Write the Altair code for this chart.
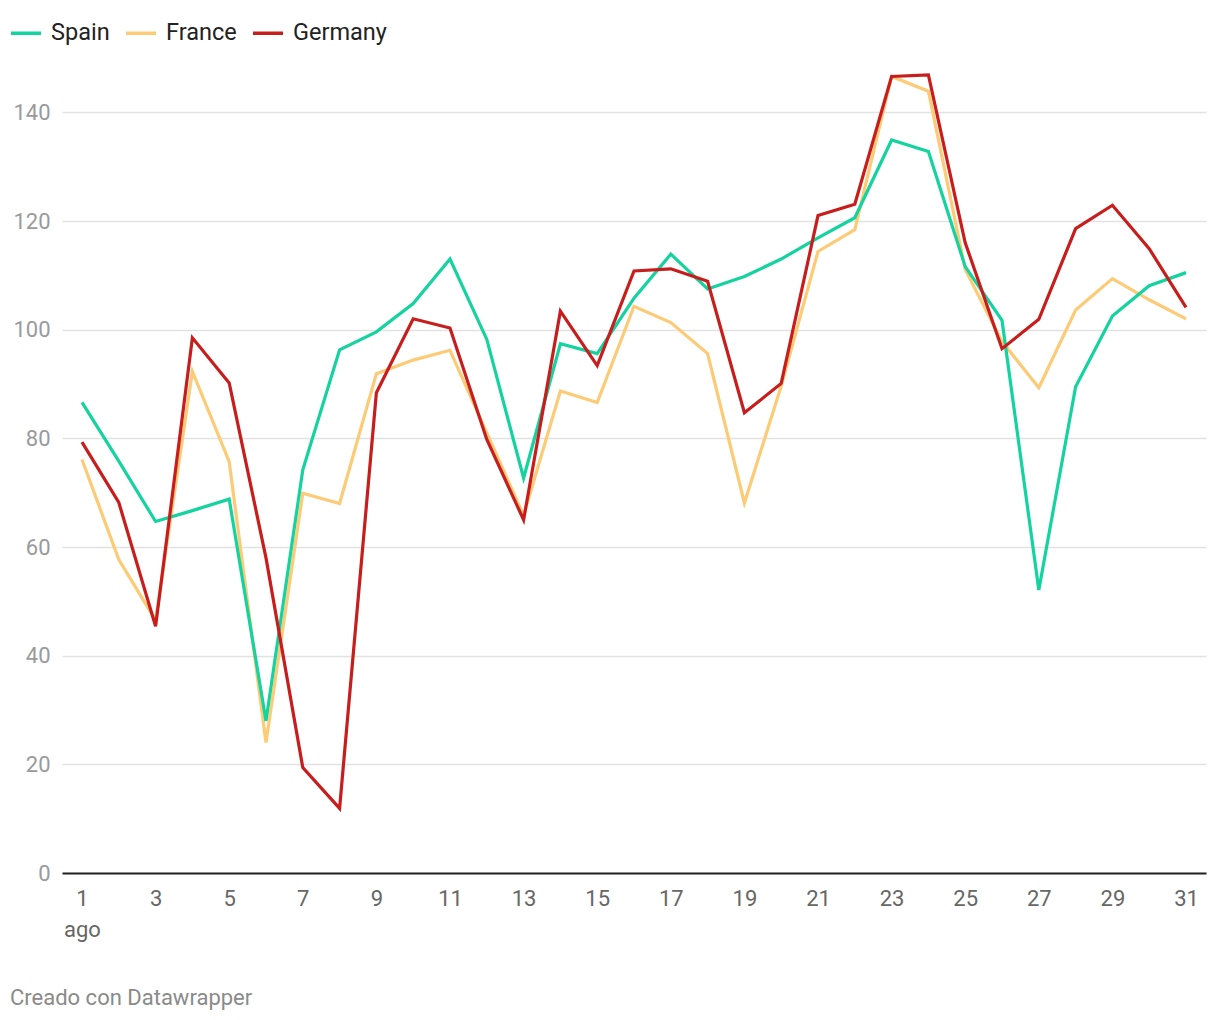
import altair as alt
import pandas as pd

days = list(range(1, 32))
spain = [86.6, 75.8, 64.7, 66.7, 68.8, 28.0, 74.2, 96.3, 99.6, 104.8, 113.0, 98.2, 72.7, 97.4, 95.6,
         105.8, 113.9, 107.5, 109.8, 113.0, 116.9, 120.6, 134.9, 132.8, 111.6, 101.7, 52.1, 89.5, 102.5, 108.1, 110.5]
france = [76.1, 57.7, 46.5, 92.3, 75.7, 24.0, 69.9, 68.0, 91.9, 94.4, 96.2, 81.0, 65.8, 88.7, 86.6,
          104.3, 101.3, 95.6, 68.1, 89.6, 114.4, 118.4, 146.6, 143.9, 111.1, 97.8, 89.3, 103.6, 109.4, 105.5, 102.0]
germany = [79.3, 68.2, 45.4, 98.5, 90.2, 58.0, 19.4, 11.9, 88.4, 102.0, 100.3, 79.8, 65.0, 103.4, 93.4,
           110.8, 111.2, 108.9, 84.7, 90.1, 121.0, 123.1, 146.6, 146.9, 116.0, 96.5, 101.9, 118.6, 122.9, 114.9, 104.1]

series = ["Spain", "France", "Germany"]
colors = ["#14d39f", "#fdca76", "#c71e1d"]
draw_order = {"France": 0, "Spain": 1, "Germany": 2}

rows = []
for name, vals in [("France", france), ("Spain", spain), ("Germany", germany)]:
    for d, v in zip(days, vals):
        rows.append({"day": d, "value": v, "country": name, "k": draw_order[name]})
df = pd.DataFrame(rows)

x_ticks = list(range(1, 32, 2))
y_ticks = list(range(0, 141, 20))

chart = alt.Chart(df).mark_line(strokeWidth=3.2, strokeJoin="miter").encode(
    x=alt.X("day:Q",
            scale=alt.Scale(domain=[0.457, 31.543], nice=False, zero=False),
            axis=alt.Axis(values=x_ticks, title=None, grid=False, ticks=False,
                          domain=True, domainColor="#222222", domainWidth=2,
                          labelFont="Roboto", labelFontSize=22, labelColor="#666666",
                          labelPadding=15, labelLineHeight=31, labelFlush=False,
                          labelExpr="datum.value == 1 ? ['1', 'ago'] : datum.label")),
    y=alt.Y("value:Q",
            scale=alt.Scale(domain=[0, 150], nice=False),
            axis=alt.Axis(values=y_ticks, title=None, domain=False, ticks=False,
                          grid=True, gridColor="#e2e2e2", gridWidth=1.5,
                          labelFont="Roboto", labelFontSize=22, labelColor="#9a9a9a",
                          labelPadding=12, labelAlign="right")),
    color=alt.Color("country:N",
                    scale=alt.Scale(domain=series, range=colors),
                    legend=alt.Legend(title=None, orient="none", legendX=-53, legendY=-42,
                                      direction="horizontal", symbolType="stroke",
                                      symbolSize=900, symbolStrokeWidth=3.5,
                                      labelFont="Roboto", labelFontSize=23.5, labelColor="#222222",
                                      labelOffset=8, columnPadding=9)),
    detail="k:O",
).properties(
    width=1144,
    height=815,
    autosize=alt.AutoSizeParams(type="none"),
    padding={"left": 54, "top": 50, "right": 6, "bottom": 140},
    title=alt.TitleParams("Creado con Datawrapper", orient="bottom", anchor="start",
                          frame="group", dx=-52, offset=48, font="Roboto", fontSize=22,
                          fontWeight="normal", color="#8a8a8a"),
).configure_view(strokeWidth=0)

chart.save("out.html", embed_options={"renderer": "svg", "actions": False})
